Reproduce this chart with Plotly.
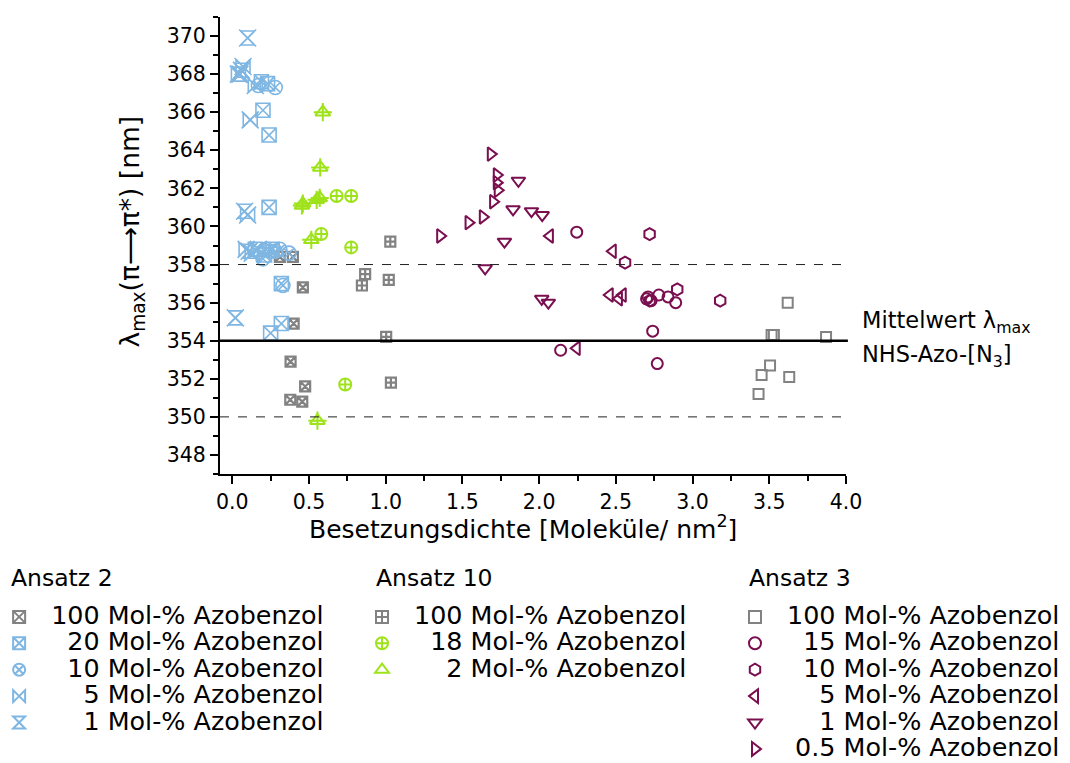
import plotly.graph_objects as go

# ---------------- data ----------------
# Ansatz 2
a2_100_x = [0.31, 0.395, 0.46, 0.40, 0.38, 0.475, 0.378, 0.456]
a2_100_y = [358.4, 358.4, 356.8, 354.9, 352.9, 351.6, 350.9, 350.8]
a2_20_x = [0.19, 0.23, 0.20, 0.24, 0.24, 0.21, 0.26, 0.32, 0.32, 0.25, 0.15]
a2_20_y = [367.6, 367.5, 366.1, 364.8, 361.0, 358.5, 358.8, 357.0, 354.9, 354.4, 358.8]
a2_10_x = [0.28, 0.17, 0.22, 0.28, 0.31, 0.37, 0.33, 0.20, 0.25]
a2_10_y = [367.3, 367.4, 358.8, 358.7, 358.8, 358.6, 356.9, 358.3, 358.7]
a2_5_x = [0.04, 0.07, 0.117, 0.10, 0.13, 0.17, 0.15, 0.09]
a2_5_y = [368.0, 368.4, 365.6, 360.6, 358.6, 358.8, 367.4, 358.8]
a2_1_x = [0.10, 0.06, 0.02, 0.08, 0.11, 0.05]
a2_1_y = [369.9, 368.2, 355.2, 360.8, 358.7, 368.0]

# Ansatz 10
a10_100_x = [1.03, 0.866, 0.845, 1.02, 1.003, 1.034]
a10_100_y = [359.2, 357.5, 356.9, 357.2, 354.2, 351.8]
a10_18_x = [0.68, 0.775, 0.58, 0.775, 0.736]
a10_18_y = [361.6, 361.6, 359.6, 358.9, 351.7]
a10_2_x = [0.59, 0.573, 0.55, 0.57, 0.454, 0.46, 0.515, 0.555]
a10_2_y = [366.0, 363.1, 361.4, 361.5, 361.1, 361.2, 359.3, 349.8]

# Ansatz 3
a3_100_x = [3.62, 3.515, 3.53, 3.87, 3.505, 3.45, 3.63, 3.43]
a3_100_y = [356.0, 354.3, 354.3, 354.2, 352.7, 352.2, 352.1, 351.2]
a3_15_x = [2.245, 2.14, 2.74, 2.77, 2.70, 2.73, 2.78, 2.84, 2.89, 2.71]
a3_15_y = [359.7, 353.5, 354.5, 352.8, 356.2, 356.1, 356.4, 356.3, 356.0, 356.3]
a3_10_x = [2.72, 2.56, 2.90, 3.18, 2.72]
a3_10_y = [359.6, 358.1, 356.7, 356.1, 356.1]
a3_5_x = [2.07, 2.48, 2.46, 2.545, 2.52, 2.245]
a3_5_y = [359.5, 358.7, 356.4, 356.4, 356.2, 353.6]
a3_1_x = [1.865, 1.83, 1.95, 2.02, 1.774, 1.648, 2.017, 2.06]
a3_1_y = [362.4, 360.9, 360.8, 360.6, 359.2, 357.8, 356.2, 356.0]
a3_05_x = [1.685, 1.724, 1.724, 1.73, 1.70, 1.633, 1.54, 1.355]
a3_05_y = [363.8, 362.7, 362.3, 361.9, 361.3, 360.5, 360.2, 359.5]

mean_value = 354.0
band_values = [358.0, 350.0]

legend_titles = ["Ansatz 2", "Ansatz 10", "Ansatz 3"]
x_title = "Besetzungsdichte [Moleküle/ nm<sup>2</sup>]"
y_title = "λ<sub>max</sub>(π⟶π*) [nm]"

# ---------------- style ----------------
FONT = "DejaVu Sans"
GRAY = "#828282"
BLUE = "#7fb6e2"
GREEN = "#9ee31a"
PURPLE = "#7a0f50"
FS = "\u2007"  # figure space (digit width)
PS = "\u2008"  # punctuation space


def lab(t):
    return '<span style="font-size:25.4px">' + t + '</span>'


fig = go.Figure()


def add(x, y, name, symbol, color, size, legend, overlay=None, lw=2.0, osize=None):
    fig.add_trace(go.Scatter(
        x=x, y=y, mode="markers", name=lab(name), legend=legend,
        marker=dict(symbol=symbol, size=size, color=color,
                    line=dict(color=color, width=lw)),
        legendgroup=name + legend))
    if overlay:
        fig.add_trace(go.Scatter(
            x=x, y=y, mode="markers", showlegend=False, legend=legend,
            legendgroup=name + legend,
            marker=dict(symbol=overlay, size=osize or size, color=color,
                        line=dict(color=color, width=lw))))


add(a2_100_x, a2_100_y, "100 Mol-% Azobenzol", "square-x-open", GRAY, 10, "legend", lw=2.2)
add(a2_20_x, a2_20_y, FS + "20 Mol-% Azobenzol", "square-x-open", BLUE, 14, "legend", lw=1.6)
add(a2_10_x, a2_10_y, FS + "10 Mol-% Azobenzol", "circle-x-open", BLUE, 14, "legend", lw=1.6)
add(a2_5_x, a2_5_y, FS + FS + "5 Mol-% Azobenzol", "bowtie-open", BLUE, 14, "legend",
    "x-thin-open", lw=1.6, osize=17)
add(a2_1_x, a2_1_y, FS + FS + "1 Mol-% Azobenzol", "hourglass-open", BLUE, 14, "legend",
    "x-thin-open", lw=1.6, osize=17)

add(a10_100_x, a10_100_y, "100 Mol-% Azobenzol", "square-cross-open", GRAY, 10, "legend2", lw=2.2)
add(a10_18_x, a10_18_y, FS + "18 Mol-% Azobenzol", "circle-cross-open", GREEN, 12, "legend2")
add(a10_2_x, a10_2_y, FS + FS + "2 Mol-% Azobenzol", "triangle-up-open", GREEN, 13, "legend2",
    "cross-thin-open")

add(a3_100_x, a3_100_y, "100 Mol-% Azobenzol", "square-open", GRAY, 10, "legend3")
add(a3_15_x, a3_15_y, FS + "15 Mol-% Azobenzol", "circle-open", PURPLE, 11, "legend3")
add(a3_10_x, a3_10_y, FS + "10 Mol-% Azobenzol", "hexagon-open", PURPLE, 12, "legend3")
add(a3_5_x, a3_5_y, FS + FS + "5 Mol-% Azobenzol", "triangle-left-open", PURPLE, 12, "legend3")
add(a3_1_x, a3_1_y, FS + FS + "1 Mol-% Azobenzol", "triangle-down-open", PURPLE, 12, "legend3")
add(a3_05_x, a3_05_y, PS + "0.5 Mol-% Azobenzol", "triangle-right-open", PURPLE, 12, "legend3")

# reference lines
fig.add_shape(type="line", xref="paper", x0=0, x1=1.003, yref="y",
              y0=mean_value, y1=mean_value, line=dict(color="black", width=2.5))
for v in band_values:
    fig.add_shape(type="line", xref="paper", x0=0, x1=1, yref="y",
                  y0=v, y1=v, line=dict(color="#222222", width=1, dash="dash"))

fig.add_annotation(xref="paper", x=1.022, yref="y", y=mean_value, yshift=19,
                   text="Mittelwert λ<sub>max</sub>", showarrow=False,
                   xanchor="left", yanchor="middle",
                   font=dict(family=FONT, size=22.5, color="black"))
fig.add_annotation(xref="paper", x=1.022, yref="y", y=mean_value, yshift=-15,
                   text="NHS-Azo-[N<sub>3</sub>]", showarrow=False,
                   xanchor="left", yanchor="middle",
                   font=dict(family=FONT, size=22.5, color="black"))

# axis titles
fig.add_annotation(xref="paper", yref="paper", x=0.484, y=-0.116, text=x_title,
                   showarrow=False, xanchor="center", yanchor="middle",
                   font=dict(family=FONT, size=25, color="black"))
fig.add_annotation(xref="paper", yref="paper", x=-0.141, y=0.53, text=y_title,
                   showarrow=False, xanchor="center", yanchor="middle", textangle=-90,
                   font=dict(family=FONT, size=26.5, color="black"))

# legend headings
for t, lx in zip(legend_titles, [-0.337, 0.246, 0.842]):
    fig.add_annotation(xref="paper", yref="paper", x=lx, y=-0.2276, text=t,
                       showarrow=False, xanchor="left", yanchor="middle",
                       font=dict(family=FONT, size=23.5, color="black"))

axis_common = dict(showgrid=False, zeroline=False, showline=True, linecolor="black",
                   linewidth=2, ticks="outside", ticklen=8, tickwidth=1.5,
                   tickcolor="black", tickfont=dict(family=FONT, size=20.5, color="black"),
                   mirror=False)

fig.update_xaxes(range=[-0.08, 4.0], tick0=0, dtick=0.5, tickformat=".1f",
                 minor=dict(ticks="outside", ticklen=5, dtick=0.25, tick0=0,
                            tickcolor="black", tickwidth=1.5),
                 **axis_common)
fig.update_yaxes(range=[347, 371], tick0=348, dtick=2,
                 minor=dict(ticks="outside", ticklen=5, dtick=1, tick0=347,
                            tickcolor="black", tickwidth=1.5),
                 **axis_common)

legend_common = dict(font=dict(family=FONT, size=18, color="black"),
                     bgcolor="rgba(0,0,0,0)", itemsizing="constant", itemwidth=54,
                     yanchor="top", xanchor="left", orientation="v", y=-0.2729,
                     tracegroupgap=0, itemclick=False, itemdoubleclick=False)

# the page body adds an 8 px offset, so the figure is 8 px smaller on each axis
fig.update_layout(
    width=1062, height=755,
    margin=dict(l=212, r=224, t=9, b=289, autoexpand=False),
    paper_bgcolor="white", plot_bgcolor="white",
    font=dict(family=FONT, color="black"),
    legend=dict(x=-0.372, **legend_common),
    legend2=dict(x=0.2077, **legend_common),
    legend3=dict(x=0.8035, **legend_common),
)

fig.write_html("out.html")
